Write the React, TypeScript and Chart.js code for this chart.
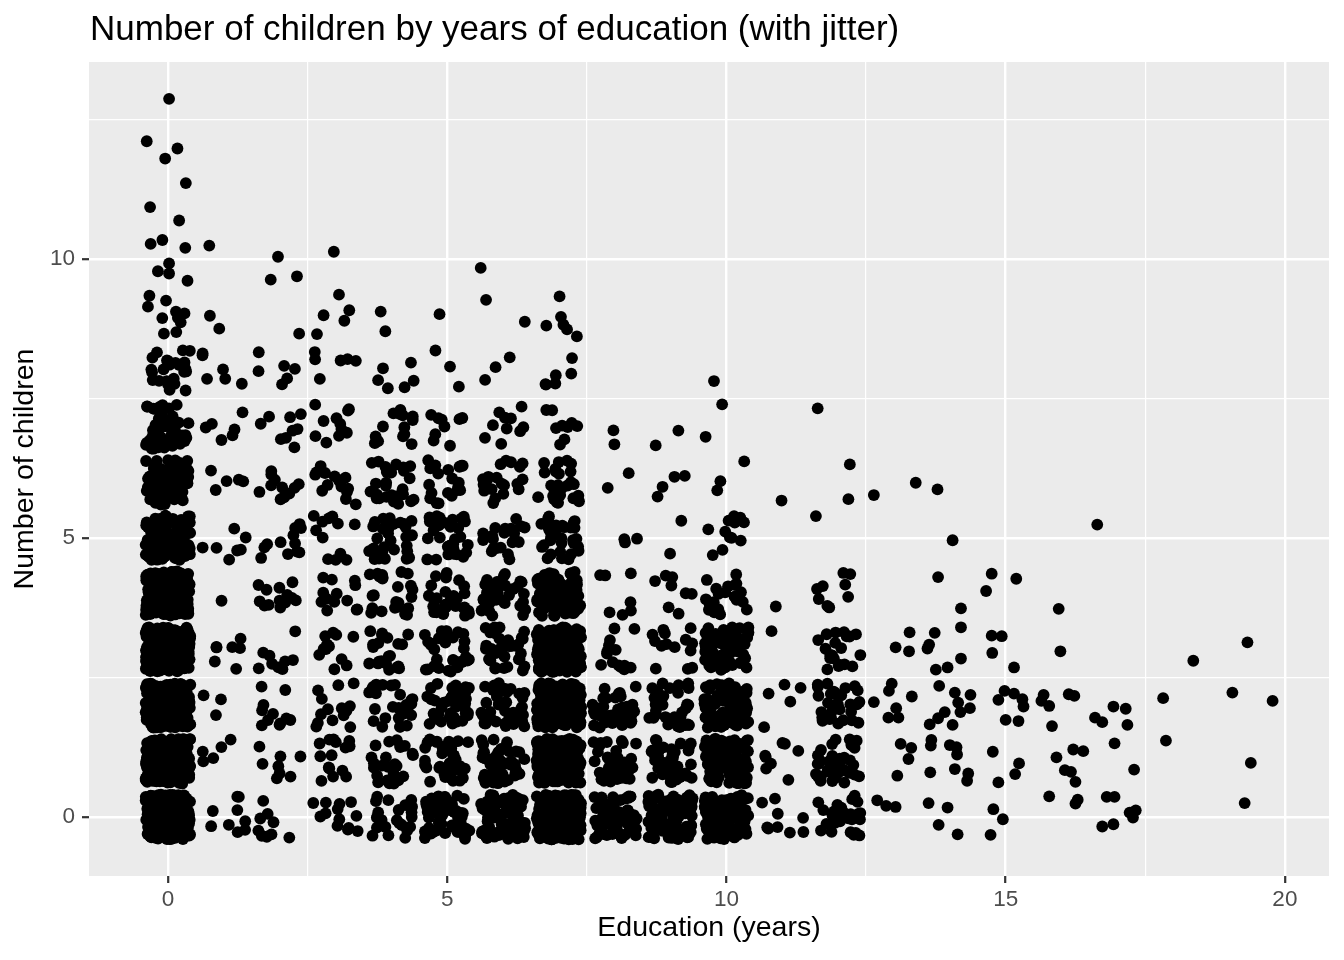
import { useEffect, useRef } from 'react';
import { Chart, ScatterController, PointElement, LinearScale } from 'chart.js';

Chart.register(ScatterController, PointElement, LinearScale);

// Years of education that have a count row below (0..12)
const educationYears = [0, 1, 2, 3, 4, 5, 6, 7, 8, 9, 10, 11, 12];
// Number of children for each column of the count rows
const childrenLevels = [0, 1, 2, 3, 4, 5, 6, 7, 8, 9];
// How many women per (education, children) cell
const pointCounts = [
  [210, 210, 220, 200, 180, 150, 80, 55, 24, 10],
  [9, 5, 3, 7, 1, 7, 5, 6, 6, 2],
  [9, 8, 11, 9, 13, 12, 11, 9, 6, 1],
  [13, 15, 14, 12, 13, 12, 15, 12, 6, 5],
  [22, 24, 28, 22, 24, 30, 26, 14, 6, 2],
  [55, 40, 38, 32, 30, 30, 20, 9, 3, 1],
  [80, 50, 42, 35, 36, 20, 20, 10, 3, 2],
  [220, 210, 180, 140, 80, 35, 26, 9, 6, 6],
  [65, 40, 35, 14, 7, 3, 2, 2, 0, 0],
  [85, 40, 30, 14, 8, 2, 4, 2, 0, 0],
  [110, 110, 90, 60, 20, 12, 3, 2, 1, 0],
  [9, 8, 5, 1, 1, 0, 1, 0, 0, 0],
  [30, 40, 32, 20, 9, 1, 2, 1, 0, 0],
];

// Isolated points (already jittered) read one by one: 10+ children
const manyChildrenX = [0.02, -0.38, 0.17, -0.05, 0.32, -0.32, 0.2, -0.31, -0.1, 0.31, 0.74, 0.02, -0.18, 0.02, 0.35, 1.97, 1.84, 2.31, 2.97, 5.6];
const manyChildrenY = [12.87, 12.11, 11.98, 11.8, 11.36, 10.93, 10.69, 10.27, 10.34, 10.2, 10.24, 9.92, 9.78, 9.74, 9.61, 10.04, 9.63, 9.69, 10.13, 9.84];

// Isolated points (already jittered) read one by one: 13+ years of education
const highEduX = [
  12.64, 13.39, 13.78, 14.05, 16.64, 13.79, 14.75, 15.19, 14.65, 14.2, 15.95, 14.2, 13.28, 13.73, 13.03, 13.27,
  13.6, 13.63, 14.75, 14.93, 14.76, 15.98, 14.2, 13.75, 13.96, 15.15, 19.33, 18.36, 12.96, 12.91, 13.32, 12.64,
  13.81, 14.09, 14.37, 14.15, 14.36, 14.19, 13.91, 13.79, 13.64, 14.05, 13.04, 12.9, 13.08, 14.98, 15.15, 15.3,
  15.32, 14.87, 15.0, 15.23, 15.68, 15.64, 15.78, 16.13, 16.23, 15.83, 16.6, 16.73, 16.93, 17.15, 17.18, 17.82,
  19.06, 19.78, 17.87, 19.39, 19.28, 13.12, 13.31, 13.26, 13.67, 13.66, 14.0, 14.12, 14.13, 13.06, 13.65, 14.09,
  14.33, 14.31, 14.77, 14.87, 15.24, 15.17, 15.91, 16.21, 16.39, 16.06, 16.17, 16.25, 16.95, 17.3, 12.7, 12.86,
  13.03, 13.62, 13.96, 13.8, 14.14, 14.78, 14.95, 14.73, 15.78, 16.29, 16.25, 16.81, 16.95, 16.73, 16.93, 17.22,
  17.33, 17.28,
];
const highEduY = [
  5.77, 5.99, 5.87, 4.96, 5.24, 4.3, 4.36, 4.27, 4.05, 3.74, 3.73, 3.4, 3.31, 3.3, 3.04, 2.97,
  3.02, 3.09, 3.25, 3.24, 2.94, 2.97, 2.84, 2.64, 2.68, 2.68, 3.13, 2.8, 2.39, 2.26, 2.16, 2.06,
  2.35, 2.23, 2.19, 2.05, 1.95, 1.88, 1.88, 1.77, 1.66, 1.65, 1.95, 1.78, 1.78, 2.26, 2.21, 2.11,
  1.98, 2.1, 1.74, 1.72, 2.19, 2.08, 1.99, 2.2, 2.17, 1.63, 1.78, 1.7, 1.98, 1.94, 1.65, 2.13,
  2.23, 2.08, 1.37, 0.97, 0.25, 1.31, 1.24, 1.04, 1.38, 1.28, 1.29, 1.25, 1.12, 0.74, 0.8, 0.86,
  0.78, 0.65, 1.17, 0.62, 0.96, 0.77, 1.07, 1.21, 1.18, 0.84, 0.81, 0.63, 1.32, 0.85, 0.3, 0.2,
  0.18, 0.25, 0.17, -0.14, -0.31, 0.14, -0.04, -0.32, 0.37, 0.31, 0.24, 0.36, 0.36, -0.17, -0.13, 0.08,
  0.12, -0.01,
];

const xTicks = [0, 2.5, 5, 7.5, 10, 12.5, 15, 17.5, 20];
const yTicks = [0, 2.5, 5, 7.5, 10, 12.5];

const FONT = '"Liberation Sans", Arial, Helvetica, sans-serif';

// ggplot-style jitter (±0.4) from a murmur-style integer hash, so the picture is stable
function jitter(i: number, j: number, k: number, axis: number) {
  let h = Math.imul((((i * 16 + j) * 512 + k) * 2 + axis + 1) | 0, 0x9e3779b9);
  h ^= h >>> 16;
  h = Math.imul(h, 0x85ebca6b);
  h ^= h >>> 13;
  h = Math.imul(h, 0xc2b2ae35);
  h ^= h >>> 16;
  return ((h >>> 0) / 4294967296) * 0.8 - 0.4;
}

function buildPoints() {
  const pts: { x: number; y: number }[] = [];
  educationYears.forEach((edu, i) => {
    childrenLevels.forEach((kids, j) => {
      const n = pointCounts[i][j];
      for (let k = 0; k < n; k++) {
        pts.push({ x: edu + jitter(i, j, k, 0), y: kids + jitter(i, j, k, 1) });
      }
    });
  });
  manyChildrenX.forEach((x, i) => pts.push({ x, y: manyChildrenY[i] }));
  highEduX.forEach((x, i) => pts.push({ x, y: highEduY[i] }));
  return pts;
}

const panelPlugin = {
  id: 'panel',
  beforeDraw(chart: any) {
    const { ctx, chartArea } = chart;
    ctx.save();
    ctx.fillStyle = '#EBEBEB';
    ctx.fillRect(chartArea.left, chartArea.top, chartArea.right - chartArea.left, chartArea.bottom - chartArea.top);
    ctx.restore();
  },
  afterDraw(chart: any) {
    const { ctx } = chart;
    ctx.save();
    ctx.fillStyle = '#000000';
    ctx.font = `35px ${FONT}`;
    ctx.textBaseline = 'alphabetic';
    ctx.textAlign = 'left';
    ctx.fillText('Number of children by years of education (with jitter)', 90, 40);
    ctx.restore();
  },
};

const isMajor = (v: number) => v % 5 === 0;

export default function App() {
  const chartRef = useRef<HTMLCanvasElement>(null);
  const chartInstance = useRef<Chart | null>(null);

  useEffect(() => {
    if (!chartRef.current) return;
    chartInstance.current = new Chart(chartRef.current, {
      type: 'scatter',
      data: {
        datasets: [{
          data: buildPoints(),
          backgroundColor: '#000000',
          borderWidth: 0,
          pointRadius: 5.9,
          pointHoverRadius: 5.9,
        }],
      },
      options: {
        responsive: false,
        animation: false,
        events: [],
        layout: { padding: { top: 62, right: 15, left: 0, bottom: 0 } },
        plugins: { legend: { display: false }, tooltip: { enabled: false } },
        scales: {
          x: {
            type: 'linear',
            min: -1.414,
            max: 20.79,
            afterBuildTicks: (scale: any) => { scale.ticks = xTicks.map(value => ({ value })); },
            afterFit: (scale: any) => { scale.height = 84; },
            border: { display: false },
            grid: {
              color: '#FFFFFF',
              lineWidth: (c: any) => (isMajor(c.tick.value) ? 2.4 : 1.2),
              tickColor: (c: any) => (isMajor(c.tick.value) ? '#333333' : 'rgba(0,0,0,0)'),
              tickLength: 7,
              tickWidth: 2.2,
            },
            ticks: {
              autoSkip: false,
              maxRotation: 0,
              padding: 3,
              color: '#4D4D4D',
              font: { family: FONT, size: 22.5 },
              callback: (v: any) => (isMajor(Number(v)) ? String(v) : ''),
            },
            title: {
              display: true,
              text: 'Education (years)',
              color: '#000000',
              font: { family: FONT, size: 28.5 },
              padding: { top: 0, bottom: 14.5 },
            },
          },
          y: {
            type: 'linear',
            min: -1.057,
            max: 13.53,
            afterBuildTicks: (scale: any) => { scale.ticks = yTicks.map(value => ({ value })); },
            afterFit: (scale: any) => { scale.width = 89; },
            border: { display: false },
            grid: {
              color: '#FFFFFF',
              lineWidth: (c: any) => (isMajor(c.tick.value) ? 2.4 : 1.2),
              tickColor: (c: any) => (isMajor(c.tick.value) ? '#333333' : 'rgba(0,0,0,0)'),
              tickLength: 7,
              tickWidth: 2.2,
            },
            ticks: {
              autoSkip: false,
              padding: 7,
              color: '#4D4D4D',
              font: { family: FONT, size: 22.5 },
              callback: (v: any) => (isMajor(Number(v)) ? String(v) : ''),
            },
            title: {
              display: true,
              text: 'Number of children',
              color: '#000000',
              font: { family: FONT, size: 28.5 },
              padding: { top: 8, bottom: 0 },
            },
          },
        },
      },
      plugins: [panelPlugin],
    });

    return () => {
      chartInstance.current?.destroy();
      chartInstance.current = null;
    };
  }, []);

  return (
    <div style={{ position: 'absolute', left: 0, top: 0, width: 1344, height: 960, background: '#FFFFFF' }}>
      <canvas ref={chartRef} width={1344} height={960} style={{ display: 'block' }} />
    </div>
  );
}
